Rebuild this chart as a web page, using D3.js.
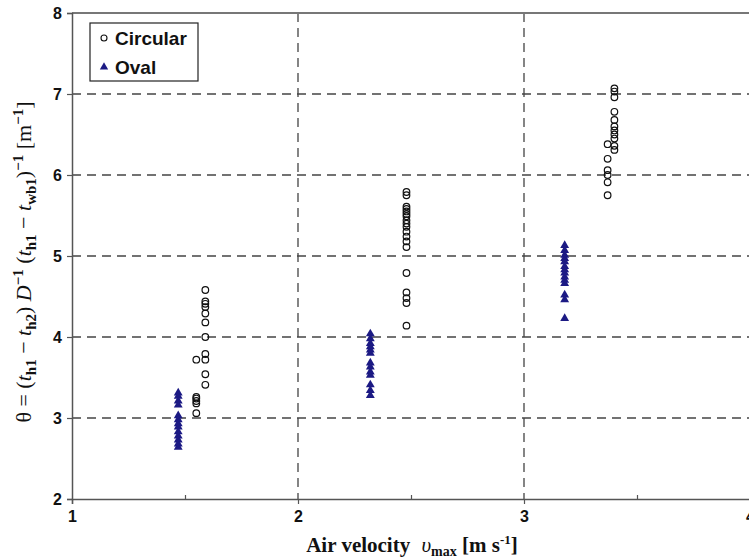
<!DOCTYPE html>
<html><head><meta charset="utf-8">
<script src="https://cdn.jsdelivr.net/npm/d3@7"></script>
<style>body{margin:0;background:#fff}svg{display:block}</style>
</head><body>
<svg id="c" width="749" height="560"></svg>
<script>
// Circular: [air velocity, theta]
const circularX = [1.55,1.55,1.55,1.55,1.55,1.55,
  1.59,1.59,1.59,1.59,1.59,1.59,1.59,1.59,1.59,1.59,1.59,
  2.48,2.48,2.48,2.48,2.48,2.48,2.48,2.48,2.48,2.48,2.48,2.48,2.48,2.48,2.48,2.48,2.48,2.48,2.48,
  3.37,3.37,3.37,3.37,3.37,3.37,
  3.40,3.40,3.40,3.40,3.40,3.40,3.40,3.40,3.40,3.40,3.40];
const circularY = [3.72,3.26,3.24,3.21,3.18,3.06,
  4.58,4.44,4.41,4.37,4.29,4.18,4.00,3.79,3.72,3.54,3.41,
  5.79,5.75,5.61,5.58,5.55,5.52,5.49,5.44,5.40,5.36,5.30,5.24,5.18,5.11,4.79,4.55,4.48,4.42,4.14,
  6.38,6.20,6.06,6.00,5.91,5.75,
  7.07,7.03,6.96,6.78,6.68,6.60,6.55,6.50,6.45,6.36,6.31];
// Oval
const ovalX = [1.47,1.47,1.47,1.47,1.47,1.47,1.47,1.47,1.47,1.47,1.47,1.47,1.47,
  2.32,2.32,2.32,2.32,2.32,2.32,2.32,2.32,2.32,2.32,2.32,2.32,2.32,
  3.18,3.18,3.18,3.18,3.18,3.18,3.18,3.18,3.18,3.18,3.18,3.18,3.18,3.18];
const ovalY = [3.31,3.27,3.21,3.16,3.03,2.98,2.93,2.89,2.83,2.78,2.73,2.68,2.64,
  4.04,3.98,3.92,3.88,3.84,3.80,3.68,3.63,3.57,3.53,3.41,3.34,3.28,
  5.13,5.07,5.01,4.97,4.93,4.87,4.83,4.79,4.74,4.70,4.66,4.52,4.46,4.23];
const xTicks = [1,2,3,4];
const xMinor = [1.5,2.5,3.5];
const yTicks = [2,3,4,5,6,7,8];
const seriesNames = ["Circular","Oval"];

const svg = d3.select("#c");
const x = d3.scaleLinear().domain([1,4]).range([72,750]);
const y = d3.scaleLinear().domain([2,8]).range([499,13]);

// grid
svg.append("g").selectAll("line").data(yTicks.filter(d=>d>2&&d<8)).join("line")
  .attr("x1",x(1)).attr("x2",749).attr("y1",d=>y(d)).attr("y2",d=>y(d))
  .attr("stroke","#444").attr("stroke-width",1.3).attr("stroke-dasharray","9,6");
svg.append("g").selectAll("line").data([2,3]).join("line")
  .attr("x1",d=>x(d)).attr("x2",d=>x(d)).attr("y1",y(8)).attr("y2",y(2))
  .attr("stroke","#444").attr("stroke-width",1.3).attr("stroke-dasharray","9,6");

// top border
svg.append("line").attr("x1",x(1)).attr("x2",749).attr("y1",y(8)).attr("y2",y(8))
  .attr("stroke","#777").attr("stroke-width",2);

// axes
const xAxis = svg.append("g").attr("transform",`translate(0,${y(2)})`)
  .call(d3.axisBottom(x).tickValues(xTicks).tickSize(5).tickPadding(4).tickFormat(d3.format("d")));
svg.append("g").attr("transform",`translate(0,${y(2)})`)
  .call(d3.axisBottom(x).tickValues(xMinor).tickSize(-4).tickFormat(""))
  .call(g=>g.select(".domain").remove());
const yAxis = svg.append("g").attr("transform",`translate(${x(1)},0)`)
  .call(d3.axisLeft(y).tickValues(yTicks).tickSize(5).tickPadding(5).tickFormat(d3.format("d")));
svg.selectAll(".domain").attr("stroke","#555").attr("stroke-width",1.5);
svg.selectAll(".tick line").attr("stroke","#555").attr("stroke-width",1.2);
svg.selectAll(".tick text").attr("font-family","Liberation Sans, Arial, sans-serif")
  .attr("font-size",16).attr("font-weight","bold").attr("fill","#111");
xAxis.selectAll(".tick text").attr("dy","0.9em");

// marks
const circ = circularX.map((v,i)=>[v,circularY[i]]);
const oval = ovalX.map((v,i)=>[v,ovalY[i]]);
svg.append("g").selectAll("circle").data(circ).join("circle")
  .attr("cx",d=>x(d[0])).attr("cy",d=>y(d[1])).attr("r",3.3)
  .attr("fill","none").attr("stroke","#111").attr("stroke-width",1.2);
const tri = d3.symbol().type(d3.symbolTriangle).size(34);
svg.append("g").selectAll("path").data(oval).join("path")
  .attr("d",tri).attr("transform",d=>`translate(${x(d[0])},${y(d[1])})`)
  .attr("fill","#1c1a84");

// legend
const lg = svg.append("g");
lg.append("rect").attr("x",90).attr("y",23).attr("width",108).attr("height",58)
  .attr("fill","#fff").attr("stroke","#222").attr("stroke-width",1.2);
lg.append("circle").attr("cx",104).attr("cy",38).attr("r",3).attr("fill","none")
  .attr("stroke","#111").attr("stroke-width",1.1);
lg.append("path").attr("d",d3.symbol().type(d3.symbolTriangle).size(30))
  .attr("transform","translate(104,67)").attr("fill","#1c1a84");
lg.selectAll("text").data(seriesNames).join("text")
  .attr("x",115).attr("y",(d,i)=>44.5+i*29).text(d=>d)
  .attr("font-family","Liberation Sans, Arial, sans-serif").attr("font-size",19)
  .attr("font-weight","bold").attr("fill","#111");

// x title
const xt = svg.append("text").attr("x",412).attr("y",552).attr("text-anchor","middle")
  .attr("font-family","Liberation Serif, Times New Roman, serif").attr("font-size",21)
  .attr("font-weight","bold").attr("fill","#111");
xt.append("tspan").text("Air velocity ");
xt.append("tspan").text("υ").attr("dx",6).attr("font-style","italic").attr("font-weight","normal");
xt.append("tspan").text("max").attr("font-size",14).attr("dy",4);
xt.append("tspan").text(" [m s").attr("dy",-4);
xt.append("tspan").text("-1").attr("font-size",13).attr("dy",-8);
xt.append("tspan").text("]").attr("dy",8);

// y title
const yt = svg.append("text").attr("transform","translate(31,262) rotate(-90)")
  .attr("text-anchor","middle")
  .attr("font-family","Liberation Serif, Times New Roman, serif").attr("font-size",22)
  .attr("fill","#111");
const parts = [
  ["θ = (",{}],["t",{it:1}],["h1",{sub:1}],[" − ",{}],["t",{it:1}],["h2",{sub:1}],[") ",{}],
  ["D",{it:1}],["−1",{sup:1}],[" (",{}],["t",{it:1}],["h1",{sub:1}],[" − ",{}],["t",{it:1}],["wb1",{sub:1}],
  [")",{}],["−1",{sup:1}],[" [m",{}],["−1",{sup:1}],["]",{}]
];
let cur = 0;
parts.forEach(([t,o])=>{
  const s = yt.append("tspan").text(t);
  let target = o.sub?5:(o.sup?-8:0);
  s.attr("dy",target-cur); cur=target;
  if(o.it) s.attr("font-style","italic");
  if(o.sub||o.sup){s.attr("font-size",15).attr("font-weight","bold");}
});
</script>
</body></html>
